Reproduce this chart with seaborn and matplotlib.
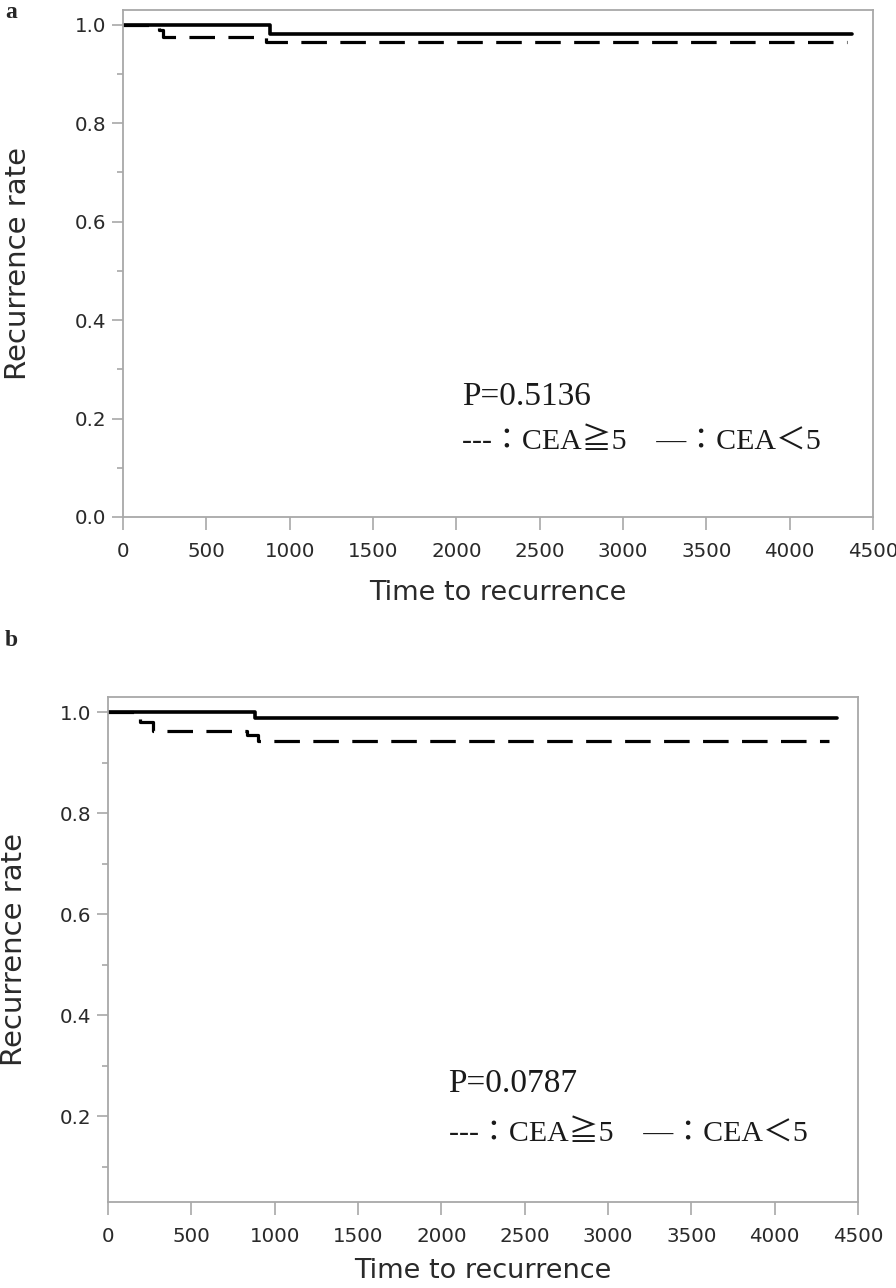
import matplotlib
matplotlib.use("Agg")
import matplotlib.pyplot as plt
import seaborn as sns
import pandas as pd
from matplotlib.ticker import MultipleLocator

# ---- data ----
a_low_t = [0, 882, 4372]
a_low_s = [1.0, 0.982, 0.982]
a_high_t = [0, 218, 238, 860, 4342]
a_high_s = [1.0, 0.989, 0.976, 0.964, 0.964]

b_low_t = [0, 882, 4372]
b_low_s = [1.0, 0.9875, 0.9875]
b_high_t = [0, 192, 270, 832, 900, 4326]
b_high_s = [1.0, 0.980, 0.962, 0.955, 0.943, 0.943]

p_values = ["P=0.5136", "P=0.0787"]
panel_labels = ["a", "b"]
x_ticks = [0, 500, 1000, 1500, 2000, 2500, 3000, 3500, 4000, 4500]
legend_text = "---\uff1aCEA\u22675\u3000\u2014\uff1aCEA\uff1c5"

sns.set_theme(style="white")
plt.rcParams["font.family"] = ["DejaVu Sans"]

fig = plt.figure(figsize=(8.96, 12.88), dpi=100)
W, H = 896, 1288

def axes_box(left, top, right, bottom):
    return [left / W, 1 - bottom / H, (right - left) / W, (bottom - top) / H]

ax_a = fig.add_axes(axes_box(123, 10, 873, 517))
ax_b = fig.add_axes(axes_box(108, 697, 858, 1202))

serif = ["Liberation Serif", "Noto Sans CJK JP", "DejaVu Sans"]

def draw(ax, lt, ls, ht, hs, ylim, yticks, ptxt, txt_xy, leg_xy, ylpad, xlpad):
    df_low = pd.DataFrame({"t": lt, "s": ls})
    df_high = pd.DataFrame({"t": ht, "s": hs})
    sns.lineplot(data=df_high, x="t", y="s", ax=ax, color="black", lw=2.3,
                 drawstyle="steps-post", estimator=None, sort=False,
                 linestyle=(0, (8.0, 4.2)), dash_capstyle="butt")
    sns.lineplot(data=df_low, x="t", y="s", ax=ax, color="black", lw=2.6,
                 drawstyle="steps-post", estimator=None, sort=False,
                 solid_capstyle="round")
    ax.set_xlim(0, 4500)
    ax.set_ylim(*ylim)
    ax.set_xticks(x_ticks)
    ax.set_xticklabels([str(v) for v in x_ticks])
    ax.set_yticks(yticks)
    ax.set_yticklabels([f"{v:.1f}" for v in yticks])
    ax.yaxis.set_minor_locator(MultipleLocator(0.1))
    ax.tick_params(axis="x", which="major", direction="out", length=9,
                   width=1.2, color="#a8a8a8", labelsize=14.3, labelcolor="#2a2a2a",
                   pad=9, bottom=True)
    ax.tick_params(axis="y", which="major", direction="out", length=8,
                   width=1.2, color="#a8a8a8", labelsize=14.3, labelcolor="#2a2a2a",
                   pad=4, left=True)
    ax.tick_params(axis="y", which="minor", direction="out", length=4,
                   width=1.2, color="#a8a8a8", left=True)
    for sp in ax.spines.values():
        sp.set_color("#a8a8a8")
        sp.set_linewidth(1.3)
    ax.set_xlabel("Time to recurrence", fontsize=19.5, color="#2a2a2a", labelpad=xlpad)
    ax.set_ylabel("Recurrence rate", fontsize=21, color="#2a2a2a", labelpad=ylpad)
    ax.text(txt_xy[0], txt_xy[1], ptxt, transform=ax.transAxes, fontsize=24,
            family=serif, va="center", ha="left", color="#1a1a1a")
    ax.text(leg_xy[0], leg_xy[1], legend_text, transform=ax.transAxes, fontsize=21.5,
            family=serif, va="center", ha="left", color="#1a1a1a")
    ax.grid(False)

draw(ax_a, a_low_t, a_low_s, a_high_t, a_high_s, (0.0, 1.03),
     [0.0, 0.2, 0.4, 0.6, 0.8, 1.0], p_values[0], (0.452, 0.237), (0.452, 0.1485), 31, 14)
draw(ax_b, b_low_t, b_low_s, b_high_t, b_high_s, (0.03, 1.03),
     [0.2, 0.4, 0.6, 0.8, 1.0], p_values[1], (0.454, 0.235), (0.454, 0.136), 23, 9)

fig.text(5 / W, 1 - 12 / H, panel_labels[0], fontsize=17, family=serif,
         fontweight="bold", va="center", ha="left")
fig.text(5 / W, 1 - 640 / H, panel_labels[1], fontsize=17, family=serif,
         fontweight="bold", va="center", ha="left")

fig.savefig("out.png", dpi=100)
